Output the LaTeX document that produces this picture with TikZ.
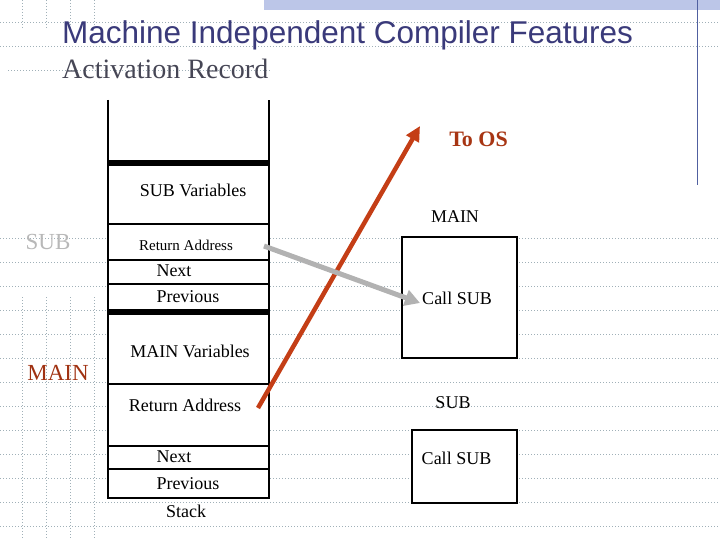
\documentclass[tikz,border=0pt]{standalone}
\usepackage{fontspec}
\setmainfont{Liberation Serif}
\newfontfamily\titlefont{Liberation Sans}
\usetikzlibrary{positioning,arrows.meta}
\definecolor{titleblue}{RGB}{58,58,122}
\definecolor{subgray}{RGB}{70,70,85}
\definecolor{gridgray}{RGB}{160,176,184}
\definecolor{bandblue}{RGB}{188,198,232}
\definecolor{rulerblue}{RGB}{80,96,160}
\definecolor{osred}{RGB}{196,62,22}
\definecolor{labelred}{RGB}{160,50,18}
\definecolor{arrowgray}{RGB}{178,178,178}
\definecolor{subgraylbl}{RGB}{184,184,184}
\tikzset{cell/.style={font=\fontsize{18}{20}\selectfont,inner sep=0pt},
  small cell/.style={cell,font=\fontsize{15}{17}\selectfont},
  side label/.style={cell,font=\fontsize{23}{25}\selectfont},
  grid line/.style={gridgray,line width=.8pt,dash pattern=on .8pt off 2.2pt},
  stack rule/.style={line width=1.2pt},
  stack bar/.style={line width=6pt},
  frame box/.style={draw,fill=white,line width=1.2pt,inner sep=0pt}}

\begin{document}
\begin{tikzpicture}[x=1pt,y=-1pt]
\useasboundingbox (0,0) rectangle (720,540);
% slide background
\fill[bandblue] (264,0) rectangle (720,10);
\draw[rulerblue,line width=1pt] (697,0) -- (697,185);
\foreach \y in {22.7,46.7} \draw[grid line] (0,\y) -- (720,\y);
\draw[grid line] (8,70.7) -- (270,70.7);
\foreach \k [evaluate=\k as \y using 22.7+24*\k] in {9,...,21}
  \draw[grid line] (0,\y) -- (720,\y);
\foreach \x in {22.7,46.7,70.7,94.7} {
  \draw[grid line] (\x,0) -- (\x,28);
  \draw[grid line] (\x,297) -- (\x,540);
}
\node[anchor=base west,inner sep=0pt,text=titleblue,font=\titlefont\fontsize{31.5}{34}\selectfont] (title) at (62,43.3) {Machine Independent Compiler Features};
\node[anchor=base west,inner sep=0pt,text=subgray,font=\fontsize{28}{30}\selectfont] (subtitle) at (62,79) {Activation Record};

% the stack
\fill[white] (108,100) rectangle (269,498);
\draw[stack rule] (108,100) -- (108,498) -- (269,498) -- (269,100);
\foreach \y in {224,260,284,384,446,469} \draw[stack rule] (108,\y) -- (269,\y);
\foreach \y in {163,312} \draw[stack bar] (108,\y) -- (269,\y);
\node[cell] (sub vars) at (193,190) {SUB Variables};
\node[small cell] (sub ret) at (186,245) {Return Address};
\node[cell] (sub next) at (174,271) {Next};
\node[cell] (sub prev) at (188,297) {Previous};
\node[cell] (main vars) at (190,351) {MAIN Variables};
\node[cell] (main ret) at (185,405) {Return Address};
\node[cell] (main next) at (174,457) {Next};
\node[cell] (main prev) at (188,484) {Previous};
\node[cell] (stack) at (186,511) {Stack};
\node[side label,text=subgraylbl] (sub lbl) at (48,242) {SUB};
\node[side label,text=labelred] (main lbl) at (58,373) {MAIN};

% code boxes
\node[frame box,minimum width=115pt,minimum height=121pt] (main box) at (459.5,297.5) {};
\node[cell] (main call) at (457,298) {Call SUB};
\node[cell] (main name) at (455,217) {MAIN};
\node[frame box,minimum width=105pt,minimum height=73pt] (sub box) at (464.5,466.5) {};
\node[cell] (sub call) at (456.5,458) {Call SUB};
\node[cell] (sub name) at (453,403) {SUB};
\node[cell,font=\bfseries\fontsize{22}{24}\selectfont,text=osred!85!black] (to os) at (478.5,139) {To OS};

% returns and calls
\coordinate (ret out) at (258,408);
\coordinate (os tip) at (420,126);
\coordinate (call out) at (264,246);
\coordinate (call tip) at (420,303);
\draw[osred,line width=4.5pt,-{Triangle[length=15pt,width=14pt]}] (ret out) -- (os tip);
\draw[arrowgray,line width=5pt,-{Triangle[length=15pt,width=16pt]}] (call out) -- (call tip);
\end{tikzpicture}
\end{document}
